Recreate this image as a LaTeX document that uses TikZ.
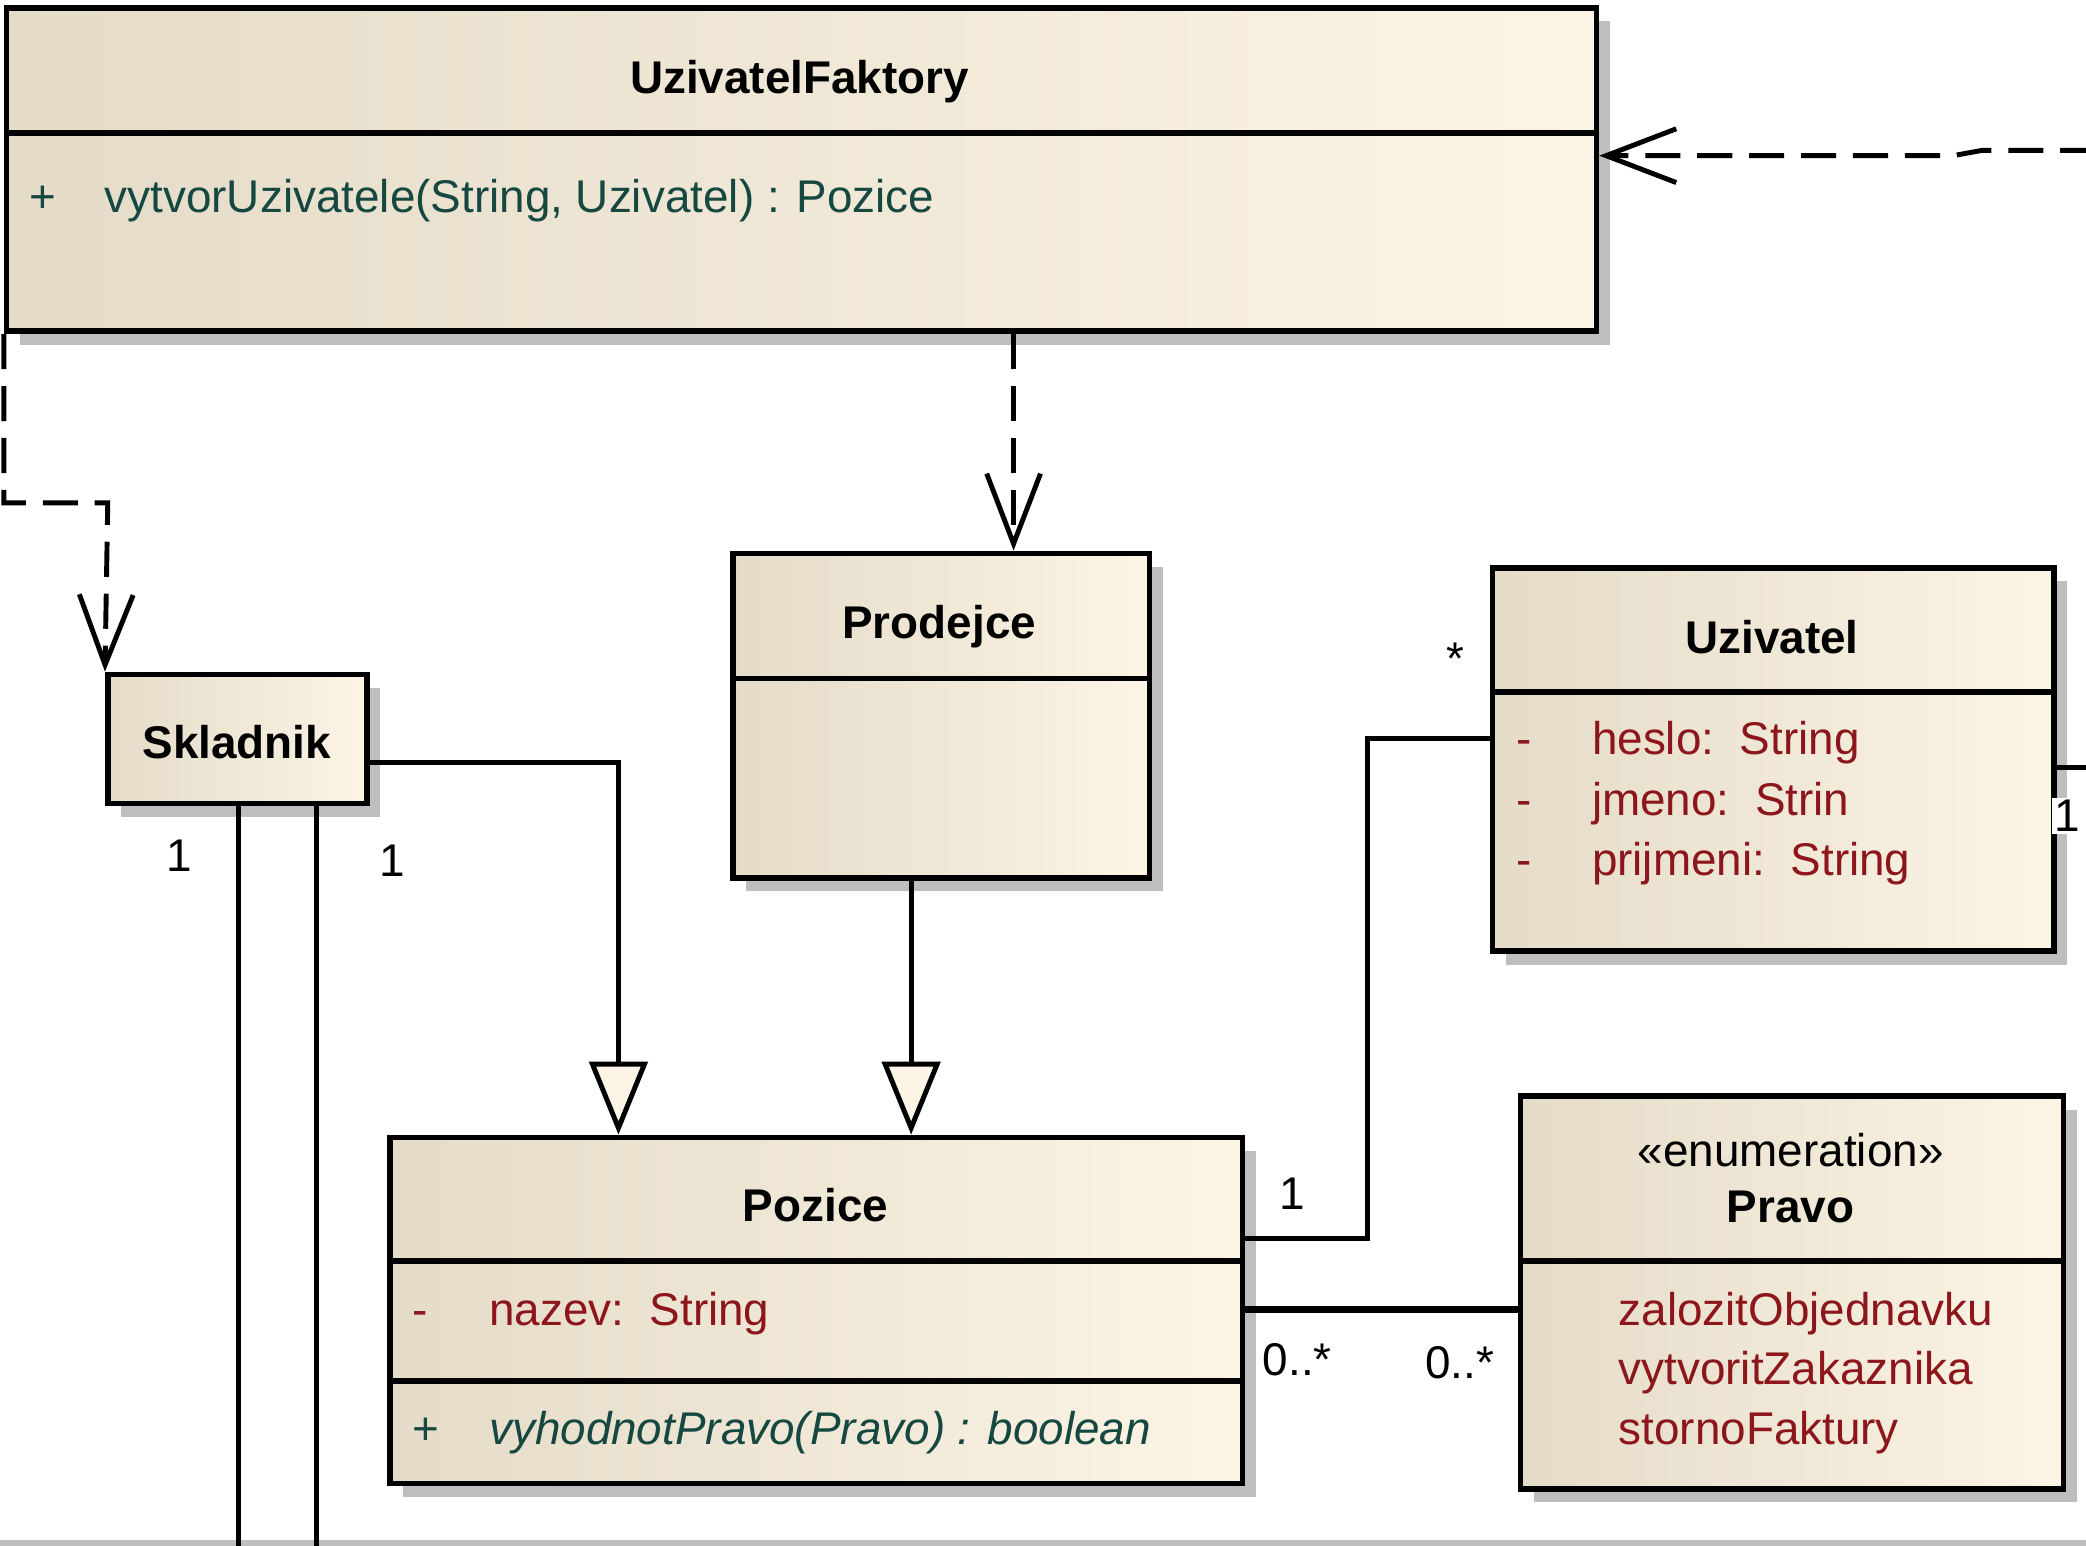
\documentclass[tikz,border=0pt]{standalone}
\usepackage{fontspec}
\setmainfont{Liberation Sans}
\usetikzlibrary{arrows.meta,shadows,fit,calc}
\definecolor{boxL}{RGB}{228,219,200}
\definecolor{boxR}{RGB}{252,244,229}
\definecolor{shadowgray}{RGB}{190,190,190}
\definecolor{attrred}{RGB}{140,22,28}
\definecolor{methteal}{RGB}{22,72,66}
\begin{document}
\begin{tikzpicture}[x=0.01cm,y=-0.01cm,
  every node/.style={font=\fontsize{9.8}{11}\selectfont, inner sep=0pt},
  umlbox/.style={rectangle, draw=black, line width=1.2pt, left color=boxL, right color=boxR,
    general shadow={fill=shadowgray, shadow xshift=0.1cm, shadow yshift=-0.1cm}, inner sep=0pt},
  divider/.style={line width=1.2pt},
  cname/.style={font=\fontsize{9.8}{11}\selectfont\bfseries, anchor=base},
  stereo/.style={anchor=base},
  attr/.style={text=attrred, anchor=base west},
  attrmark/.style={text=attrred, anchor=base},
  meth/.style={text=methteal, anchor=base west},
  methmark/.style={text=methteal, anchor=base},
  mult/.style={anchor=base},
  multbg/.style={anchor=base west, fill=white, inner sep=1pt},
  conn/.style={line width=1.05pt, line join=miter},
  dep/.style={conn, dash pattern=on 7.5pt off 3.6pt, -{Straight Barb[length=15pt,width=11.5pt]}},
  gen/.style={conn, -{Triangle[length=15.6pt,width=12.4pt,fill=boxR]}}
]
\useasboundingbox (0,0) rectangle (1568,1162);
\clip (0,0) rectangle (1568,1162);
\fill[white] (0,0) rectangle (1568,1162);

% page edge line
\draw[line width=1.2pt, shadowgray] (0,1160) -- (1568,1160);

% boxes
\node[umlbox, fit={(5,6) (1200,249)}] (uf) {};
\node[umlbox, fit={(81,507) (276,604)}] (skl) {};
\node[umlbox, fit={(551,416) (864,660)}] (pro) {};
\node[umlbox, fit={(1122,427) (1544,715)}] (uz) {};
\node[umlbox, fit={(293,855) (934,1115)}] (pz) {};
\node[umlbox, fit={(1143,824) (1551,1119)}] (pr) {};

% compartments
\draw[divider] (uf.west |- 0,100) -- (uf.east |- 0,100);
\draw[divider] (pro.west |- 0,510) -- (pro.east |- 0,510);
\draw[divider] (uz.west |- 0,520) -- (uz.east |- 0,520);
\draw[divider] (pz.west |- 0,948) -- (pz.east |- 0,948);
\draw[divider] (pz.west |- 0,1038) -- (pz.east |- 0,1038);
\draw[divider] (pr.west |- 0,948) -- (pr.east |- 0,948);

% UzivatelFaktory
\node[cname] (ufn) at (601,70) {UzivatelFaktory};
\node[methmark] (ufm1p) at (32,160) {+};
\node[meth] (ufm1) at (78,160) {vytvorUzivatele(String, Uzivatel) : Pozice};

% Skladnik
\node[cname] (skln) at (178,570) {Skladnik};

% Prodejce
\node[cname] (pron) at (706,480) {Prodejce};

% Uzivatel
\node[cname] (uzn) at (1332,491) {Uzivatel};
\node[attrmark] (uza1m) at (1146,567) {-};
\node[attr] (uza1) at (1196,567) {heslo:\ \ String};
\node[attrmark] (uza2m) at (1146,613) {-};
\node[attr] (uza2) at (1196,613) {jmeno:\ \ Strin};
\node[attrmark] (uza3m) at (1146,658) {-};
\node[attr] (uza3) at (1196,658) {prijmeni:\ \ String};

% Pozice
\node[cname] (pzn) at (613,918) {Pozice};
\node[attrmark] (pza1m) at (316,996) {-};
\node[attr] (pza1) at (367,996) {nazev:\ \ String};
\node[methmark] (pzm1p) at (320,1086) {+};
\node[meth, font=\fontsize{9.8}{11}\selectfont\itshape] (pzm1) at (367,1086) {vyhodnotPravo(Pravo) : boolean};

% Pravo
\node[stereo] (prs) at (1346,877) {«enumeration»};
\node[cname] (prn) at (1346,919) {Pravo};
\node[attr] (prl1) at (1216,996) {zalozitObjednavku};
\node[attr] (prl2) at (1216,1041) {vytvoritZakaznika};
\node[attr] (prl3) at (1216,1086) {stornoFaktury};

% dependencies
\coordinate (d1) at (81,378);
\draw[dep] (uf.south west) |- (d1) -- (skl.north west);
\path (pro.north west) ++(213,0) coordinate (ptop);
\draw[dep] (uf.south -| ptop) -- (ptop);
\coordinate (e1) at (1575,113);
\coordinate (e2) at (1490,113);
\coordinate (e3) at (1468,117);
\draw[dep] (e1) -- (e2) -- (e3) -- (uf.east |- e3);

% generalizations
\path (pz.north west) ++(174,0) coordinate (g1);
\draw[gen] (skl.east |- 0,573) -| (g1);
\path (pz.north west) ++(394,0) coordinate (g2);
\draw[gen] (pro.south -| g2) -- (g2);

% associations
\coordinate (b1) at (179,1175);
\coordinate (b2) at (238,1175);
\draw[conn] (skl.south -| b1) -- (b1);
\draw[conn] (skl.south -| b2) -- (b2);
\coordinate (k1) at (1028,555);
\coordinate (k2) at (1028,931);
\draw[conn] (uz.west |- k1) -- (k1) -- (k2) -- (pz.east |- k2);
\coordinate (k3) at (1040,984);
\draw[conn, line width=1.5pt] (pz.east |- k3) -- (pr.west |- k3);
\coordinate (k4) at (1580,577);
\draw[conn] (uz.east |- k4) -- (k4);

% multiplicities
\node[mult] (m1) at (135,655) {1};
\node[mult] (m2) at (295,659) {1};
\node[mult] (m3) at (1094,507) {*};
\node[mult] (m4) at (971,909) {1};
\node[multbg] (m5) at (945,1034) {0..*};
\node[multbg] (m6) at (1067,1036) {0..*};
\node[mult, anchor=base east, fill=white, inner sep=0.5pt] (m7) at (1566,625) {1};
\end{tikzpicture}
\end{document}
